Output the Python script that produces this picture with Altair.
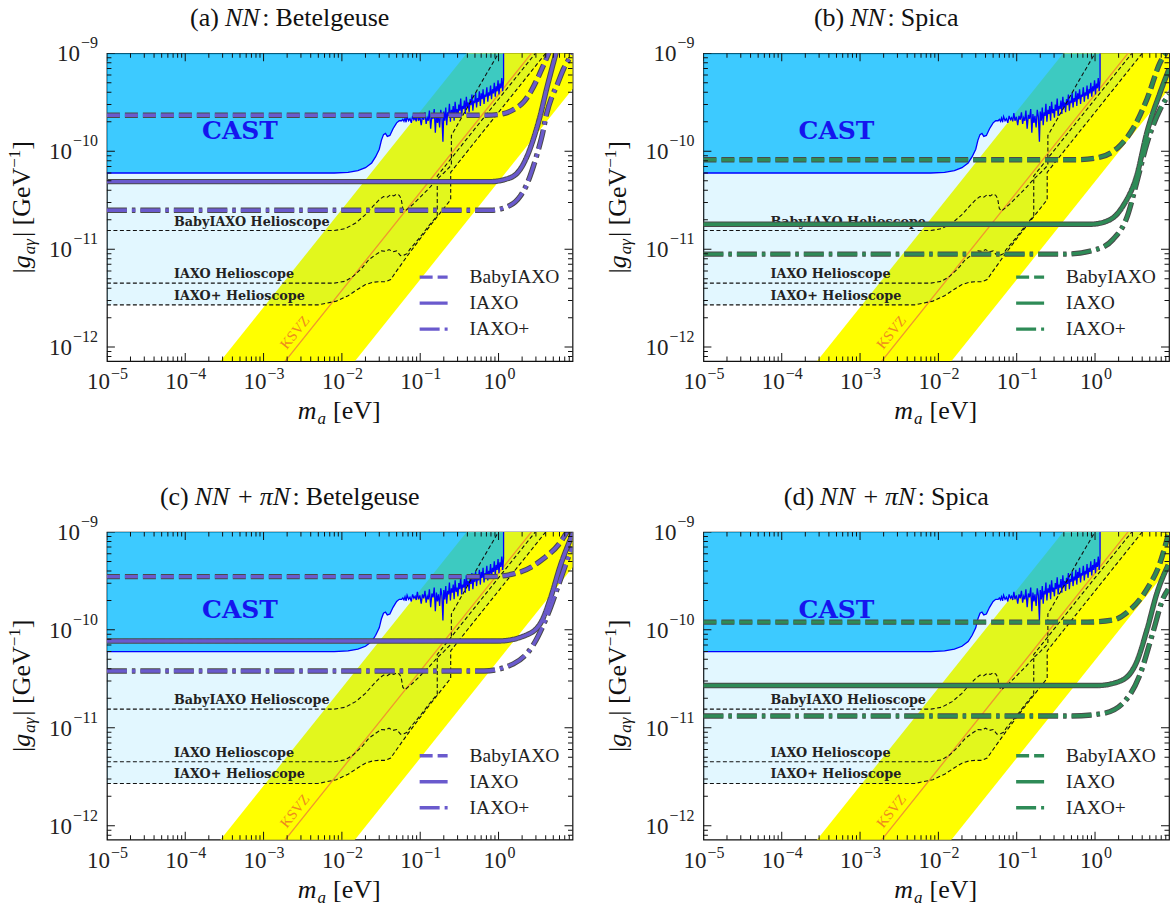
import altair as alt
import pandas as pd

SERIF = "Liberation Serif"
BOLD_SERIF = "DejaVu Serif"

W, H = 466, 308
X_DOMAIN = [1e-5, 8.8]
Y_DOMAIN = [7.2e-13, 1e-9]

X_TICKS = [1e-5, 1e-4, 1e-3, 1e-2, 1e-1, 1e0]
X_TICK_EXP = ["−5", "−4", "−3", "−2", "−1", "0"]
Y_TICKS = [1e-12, 1e-11, 1e-10, 1e-9]
Y_TICK_EXP = ["−12", "−11", "−10", "−9"]
X_MINOR = [k * 10.0 ** e for e in range(-5, 1) for k in range(2, 10) if k * 10.0 ** e <= 8.8]
Y_MINOR = [k * 10.0 ** e for e in range(-13, -9) for k in range(2, 10) if 7.2e-13 <= k * 10.0 ** e <= 1e-9]

# QCD axion band edges
BAND_M = [1e-5, 10.0]
BAND_LOW = [4.9e-16, 4.9e-10]
BAND_HIGH = [2.55e-14, 2.55e-8]

# KSVZ line
KSVZ_M = [1.0e-3, 3.0]
KSVZ_G = [3.8e-13, 1.14e-9]

# CAST limit
CAST_M = [1e-5, 0.008, 0.012, 0.016, 0.020, 0.024, 0.027, 0.030, 0.032, 0.034, 0.036, 0.038, 0.041,
          0.045, 0.050, 0.054,
          0.058, 0.060, 0.062, 0.064, 0.066, 0.068, 0.071, 0.074, 0.077, 0.080, 0.083, 0.086, 0.089,
          0.092, 0.095, 0.099, 0.103, 0.107, 0.111, 0.115, 0.119, 0.123, 0.127, 0.131, 0.136, 0.141,
          0.146, 0.151, 0.156, 0.161, 0.166, 0.171, 0.177, 0.183, 0.189, 0.195, 0.200,
          0.206, 0.212, 0.218, 0.224, 0.230, 0.236, 0.243, 0.250, 0.257, 0.264, 0.271, 0.279, 0.287,
          0.295, 0.303, 0.311, 0.320, 0.329, 0.338, 0.347, 0.357, 0.367, 0.377, 0.388, 0.399, 0.410,
          0.421, 0.433, 0.445, 0.457, 0.470, 0.483, 0.496, 0.510, 0.524, 0.539, 0.554, 0.569, 0.585,
          0.601, 0.618, 0.635, 0.653, 0.671, 0.690, 0.709, 0.729, 0.749, 0.770, 0.791, 0.813, 0.836,
          0.859, 0.883, 0.908, 0.933, 0.959, 0.986, 1.013, 1.041, 1.070, 1.100, 1.130, 1.160]
CAST_G = [6.0e-11, 6.0e-11, 6.1e-11, 6.35e-11, 6.8e-11, 7.6e-11, 8.8e-11, 1.05e-10, 1.3e-10, 1.48e-10,
          1.52e-10, 1.42e-10, 1.45e-10, 1.7e-10, 1.95e-10, 2.05e-10,
          2.05e-10, 2.12e-10, 2.02e-10, 2.18e-10, 1.98e-10, 2.26e-10, 2.05e-10, 2.15e-10, 1.95e-10, 2.3e-10,
          2.1e-10, 2.2e-10, 2.02e-10, 2.45e-10, 2.05e-10, 2.25e-10, 1.85e-10, 2.3e-10, 2.1e-10, 2.5e-10,
          1.9e-10, 2.2e-10, 2.05e-10, 2.6e-10, 1.7e-10, 2.35e-10, 2.15e-10, 2.7e-10, 1.55e-10, 2.4e-10,
          1.95e-10, 2.3e-10, 1.75e-10, 2.65e-10, 2.25e-10, 1.25e-10, 2.55e-10,
          2.05e-10, 2.8e-10, 1.85e-10, 2.5e-10, 2.3e-10, 3.05e-10, 2.0e-10, 2.65e-10, 2.4e-10, 2.9e-10,
          2.05e-10, 3.2e-10, 2.45e-10, 2.7e-10, 2.2e-10, 3.0e-10, 2.6e-10, 3.45e-10, 2.3e-10, 2.9e-10,
          2.7e-10, 3.3e-10, 2.4e-10, 3.6e-10, 2.8e-10, 3.15e-10, 2.5e-10, 3.4e-10, 2.95e-10, 3.8e-10,
          2.6e-10, 3.3e-10, 3.1e-10, 3.95e-10, 2.8e-10, 3.5e-10, 3.2e-10, 4.1e-10, 2.9e-10, 3.9e-10,
          3.4e-10, 4.3e-10, 3.05e-10, 3.8e-10, 3.6e-10, 4.5e-10, 3.2e-10, 4.0e-10, 3.7e-10, 4.7e-10,
          3.4e-10, 4.3e-10, 3.9e-10, 5.0e-10, 3.6e-10, 4.6e-10, 4.1e-10, 5.3e-10, 3.8e-10, 4.9e-10,
          4.4e-10, 5.6e-10, 4.1e-10, 5.4e-10]
CAST_EDGE_M = [1.160, 1.160]
CAST_EDGE_G = [5.4e-10, 1.0e-9]

# Helioscope sensitivities (black dashed)
HB_M = [1e-5, 0.008, 0.011, 0.015, 0.02, 0.025, 0.03, 0.034, 0.038, 0.042, 0.046, 0.05, 0.054, 0.057,
        0.060, 0.064, 0.08, 0.1, 0.13, 0.165, 0.2, 0.25, 0.25, 0.4, 0.6, 1.0]
HB_G = [1.55e-11, 1.55e-11, 1.62e-11, 1.85e-11, 2.25e-11, 2.75e-11, 3.2e-11, 3.45e-11, 3.4e-11, 3.6e-11,
        3.5e-11, 3.65e-11, 3.55e-11, 3.3e-11, 2.6e-11, 2.45e-11, 2.85e-11, 3.4e-11, 4.2e-11, 5.2e-11,
        6.0e-11, 7.2e-11, 1.45e-10, 2.8e-10, 5.0e-10, 1.0e-9]
HI_M = [1e-5, 0.008, 0.011, 0.014, 0.018, 0.022, 0.027, 0.032, 0.036, 0.040, 0.045, 0.050, 0.056, 0.062,
        0.068, 0.074, 0.1, 0.13, 0.165, 0.165, 0.5, 1.0, 2.95]
HI_G = [4.5e-12, 4.5e-12, 4.7e-12, 5.3e-12, 6.4e-12, 7.8e-12, 8.8e-12, 9.6e-12, 9.5e-12, 9.9e-12, 9.4e-12,
        9.6e-12, 8.6e-12, 8.7e-12, 9.0e-12, 1.0e-11, 1.33e-11, 1.75e-11, 2.2e-11, 5.6e-11, 1.7e-10,
        3.4e-10, 1.0e-9]
HP_M = [1e-5, 0.005, 0.0085, 0.012, 0.016, 0.02, 0.025, 0.03, 0.036, 0.042, 0.05, 0.074, 0.12, 0.165,
        0.245, 0.245, 0.5, 1.0, 2.0, 4.0]
HP_G = [2.7e-12, 2.7e-12, 2.95e-12, 3.35e-12, 3.9e-12, 4.35e-12, 4.6e-12, 4.65e-12, 4.65e-12, 4.9e-12,
        6.0e-12, 9.3e-12, 1.55e-11, 2.15e-11, 3.2e-11, 6.1e-11, 1.25e-10, 2.5e-10, 5.0e-10, 1.0e-9]
HELIO_LABELS = ["BabyIAXO Helioscope", "IAXO Helioscope", "IAXO+ Helioscope"]
HELIO_LABEL_M = [7.2e-5, 7.2e-5, 7.2e-5]
HELIO_LABEL_G = [1.55e-11, 4.5e-12, 2.7e-12]

CURVES = ["BabyIAXO", "IAXO", "IAXO+"]
DASHES = [[13, 5], [1, 0], [20, 5, 3.5, 5]]
PURPLE = "#6a5acd"
GREEN = "#2e8b57"

# (a) NN: Betelgeuse
A_BABY_M = [1e-5, 0.7, 1.1, 1.6, 2.1, 2.6, 3.1, 3.7, 4.4]
A_BABY_G = [2.33e-10, 2.33e-10, 2.4e-10, 2.7e-10, 3.2e-10, 4.1e-10, 5.4e-10, 7.4e-10, 1.02e-9]
A_IAXO_M = [1e-5, 0.8, 1.2, 1.7, 2.3, 2.8, 3.4, 4.1, 4.8, 5.5]
A_IAXO_G = [4.9e-11, 4.9e-11, 5.15e-11, 5.9e-11, 8.8e-11, 1.35e-10, 2.3e-10, 4.3e-10, 7.0e-10, 1.05e-9]
A_PLUS_M = [1e-5, 0.8, 1.4, 1.9, 2.3, 2.7, 3.1, 3.6, 4.1, 4.8, 5.5, 6.8, 8.3, 9.0]
A_PLUS_G = [2.5e-11, 2.5e-11, 2.8e-11, 3.5e-11, 4.6e-11, 6.5e-11, 9.3e-11, 1.45e-10, 2.4e-10, 3.6e-10,
            4.6e-10, 7.0e-10, 9.3e-10, 1.05e-9]
# (b) NN: Spica
B_BABY_M = [1e-5, 0.6, 1.16, 2.1, 3.05, 4.6, 6.8, 8.3]
B_BABY_G = [8.2e-11, 8.2e-11, 8.7e-11, 1.15e-10, 1.7e-10, 3.4e-10, 8.1e-10, 1.05e-9]
B_IAXO_M = [1e-5, 0.9, 1.55, 2.3, 3.4, 4.6, 6.8, 8.8]
B_IAXO_G = [1.8e-11, 1.8e-11, 2.0e-11, 2.8e-11, 5.6e-11, 1.56e-10, 4.0e-10, 6.9e-10]
B_PLUS_M = [1e-5, 0.4, 1.07, 1.7, 2.6, 3.4, 4.6, 6.8, 8.8]
B_PLUS_G = [8.9e-12, 8.9e-12, 1.0e-11, 1.26e-11, 2.2e-11, 4.8e-11, 1.2e-10, 2.7e-10, 3.8e-10]
# (c) NN + πN: Betelgeuse
C_BABY_M = [1e-5, 0.8, 1.9, 3.7, 6.2, 7.6]
C_BABY_G = [3.5e-10, 3.5e-10, 3.9e-10, 5.3e-10, 7.9e-10, 1.02e-9]
C_IAXO_M = [1e-5, 1.0, 2.3, 3.5, 4.6, 6.2, 8.3, 9.0]
C_IAXO_G = [7.7e-11, 7.7e-11, 8.9e-11, 1.2e-10, 2.1e-10, 4.6e-10, 8.5e-10, 1.0e-9]
C_PLUS_M = [1e-5, 0.65, 1.55, 2.8, 4.2, 6.2, 8.3, 8.8]
C_PLUS_G = [3.8e-11, 3.8e-11, 4.5e-11, 7.1e-11, 1.4e-10, 3.3e-10, 6.3e-10, 7.0e-10]
# (d) NN + πN: Spica
D_BABY_M = [1e-5, 0.8, 1.7, 2.8, 4.6, 6.8, 8.6]
D_BABY_G = [1.2e-10, 1.2e-10, 1.26e-10, 1.6e-10, 2.6e-10, 4.9e-10, 9.3e-10]
D_IAXO_M = [1e-5, 1.07, 2.1, 3.4, 4.6, 6.2, 8.6]
D_IAXO_G = [2.7e-11, 2.7e-11, 3.0e-11, 4.7e-11, 1.0e-10, 2.4e-10, 4.6e-10]
D_PLUS_M = [1e-5, 0.5, 1.26, 2.3, 3.7, 5.5, 7.4, 8.6]
D_PLUS_G = [1.32e-11, 1.32e-11, 1.4e-11, 1.8e-11, 3.4e-11, 9.5e-11, 2.1e-10, 2.6e-10]

# panel titles: (gap before, text, italic?) segments
TITLE_A = [(0, "(a)", False), (6, "NN", True), (1, ":", False), (6, "Betelgeuse", False)]
TITLE_B = [(0, "(b)", False), (6, "NN", True), (1, ":", False), (6, "Spica", False)]
TITLE_C = [(0, "(c)", False), (6, "NN", True), (7, "+", False), (7, "πN", True), (1, ":", False),
           (6, "Betelgeuse", False)]
TITLE_D = [(0, "(d)", False), (6, "NN", True), (7, "+", False), (7, "πN", True), (1, ":", False),
           (6, "Spica", False)]

PANELS = [
    (TITLE_A, PURPLE, (A_BABY_M, A_BABY_G), (A_IAXO_M, A_IAXO_G), (A_PLUS_M, A_PLUS_G)),
    (TITLE_B, GREEN, (B_BABY_M, B_BABY_G), (B_IAXO_M, B_IAXO_G), (B_PLUS_M, B_PLUS_G)),
    (TITLE_C, PURPLE, (C_BABY_M, C_BABY_G), (C_IAXO_M, C_IAXO_G), (C_PLUS_M, C_PLUS_G)),
    (TITLE_D, GREEN, (D_BABY_M, D_BABY_G), (D_IAXO_M, D_IAXO_G), (D_PLUS_M, D_PLUS_G)),
]

NBSP = "\u00a0"
# Times-like glyph advance widths (em) used to lay out mixed-style text pieces
REG_W = {"(": .333, ")": .333, "a": .444, "b": .5, "c": .444, "d": .5, " ": .25, NBSP: .25, ":": .278,
         "B": .667, "e": .444, "t": .278, "l": .278, "g": .5, "u": .5, "s": .389, "S": .556,
         "p": .5, "i": .278, "+": .564, "|": .2, "[": .333, "]": .333, "G": .722, "V": .722,
         "−": .564, "1": .5}
ITA_W = {"N": .7, "π": .52, "g": .5, "a": .5, "γ": .45, "m": .722}


def text_w(s, italic, size):
    table = ITA_W if italic else REG_W
    return sum(table.get(ch, 0.5) for ch in s) * size


# ---------------------------------------------------------------- scales
XS = alt.Scale(type="log", domain=X_DOMAIN, nice=False)
YS = alt.Scale(type="log", domain=Y_DOMAIN, nice=False)


def X(f):
    return alt.X(f, type="quantitative", scale=XS, axis=None)


def Y(f):
    return alt.Y(f, type="quantitative", scale=YS, axis=None)


def frame_df(ms, gs):
    return pd.DataFrame({"m": ms, "g": gs, "i": list(range(len(ms)))})


ONE = pd.DataFrame({"k": [0]})
band_df = pd.DataFrame({"m": BAND_M, "lo": BAND_LOW, "hi": BAND_HIGH})
region_df = pd.DataFrame({"m": HP_M, "g": HP_G, "top": [1e-9] * len(HP_M)})
cast_fill_df = pd.DataFrame({"m": CAST_M, "g": CAST_G, "top": [1e-9] * len(CAST_M)})
cast_line_df = frame_df(CAST_M + CAST_EDGE_M, CAST_G + CAST_EDGE_G)
ksvz_df = frame_df(KSVZ_M, KSVZ_G)
helio_df = pd.concat([
    frame_df(HB_M, HB_G).assign(c="B"),
    frame_df(HI_M, HI_G).assign(c="I"),
    frame_df(HP_M, HP_G).assign(c="P"),
])
helio_lab_df = pd.DataFrame({"m": HELIO_LABEL_M, "g": HELIO_LABEL_G, "t": HELIO_LABELS})
cast_lab_df = pd.DataFrame({"m": [5.0e-4], "g": [1.6e-10], "t": ["CAST"]})
ksvz_lab_df = pd.DataFrame({"m": [2.55e-3], "g": [1.4e-12], "t": ["KSVZ"]})
xlab_df = pd.DataFrame({"v": X_TICKS[:-1], "e": X_TICK_EXP[:-1]})
xlab0_df = pd.DataFrame({"v": X_TICKS[-1:], "e": X_TICK_EXP[-1:]})
ylab2_df = pd.DataFrame({"v": Y_TICKS[:-1], "e": Y_TICK_EXP[:-1]})
ylab1_df = pd.DataFrame({"v": Y_TICKS[-1:], "e": Y_TICK_EXP[-1:]})

DASH = alt.Scale(domain=CURVES, range=DASHES)


def const_text(txt, x, y, size, italic=False, align="left", angle=0, baseline="alphabetic"):
    kw = dict(font=SERIF, fontSize=size, fontStyle="italic" if italic else "normal", color="#111",
              align=align, baseline=baseline)
    if angle:
        kw["angle"] = angle
    return alt.Chart(ONE).mark_text(**kw).encode(x=alt.value(x), y=alt.value(y), text=alt.value(txt))


def ticks_and_labels():
    out = []
    for vals, size in [(X_TICKS, 16), (X_MINOR, 9)]:
        df = pd.DataFrame({"v": vals})
        for ypos in [0, H]:
            out.append(alt.Chart(df).mark_tick(orient="vertical", size=size, thickness=1,
                                               color="#111", clip=True, opacity=1)
                       .encode(x=X("v"), y=alt.value(ypos)))
    for vals, size in [(Y_TICKS, 16), (Y_MINOR, 9)]:
        df = pd.DataFrame({"v": vals})
        for xpos in [0, W]:
            out.append(alt.Chart(df).mark_tick(orient="horizontal", size=size, thickness=1,
                                               color="#111", clip=True, opacity=1)
                       .encode(y=Y("v"), x=alt.value(xpos)))
    # x tick labels 10^e
    for df, dxb in [(xlab_df, 3), (xlab0_df, 8)]:
        out.append(alt.Chart(df).mark_text(font=SERIF, fontSize=23, color="#222", align="right",
                                           baseline="alphabetic", dx=dxb)
                   .encode(x=X("v"), y=alt.value(H + 28), text=alt.value("10")))
        out.append(alt.Chart(df).mark_text(font=SERIF, fontSize=16, color="#222", align="left",
                                           baseline="alphabetic", dx=dxb + 1)
                   .encode(x=X("v"), y=alt.value(H + 18), text="e:N"))
    # y tick labels 10^e
    for df, ew in [(ylab2_df, 25), (ylab1_df, 17)]:
        out.append(alt.Chart(df).mark_text(font=SERIF, fontSize=16, color="#222", align="right",
                                           baseline="alphabetic", dy=-5)
                   .encode(y=Y("v"), x=alt.value(-9), text="e:N"))
        out.append(alt.Chart(df).mark_text(font=SERIF, fontSize=23, color="#222", align="right",
                                           baseline="alphabetic", dy=8)
                   .encode(y=Y("v"), x=alt.value(-10 - ew), text=alt.value("10")))
    # x axis title: m_a [eV]
    x0 = W / 2 - 42
    out.append(const_text("m", x0, H + 58, 26, italic=True))
    x1 = x0 + text_w("m", True, 26) + 1
    out.append(const_text("a", x1, H + 63, 17, italic=True))
    x2 = x1 + text_w("a", True, 17) + 7
    out.append(const_text("[eV]", x2, H + 58, 26))
    # y axis title: |g_aγ| [GeV^-1] rotated
    parts = [("|", False, 26, 0), ("g", True, 26, 0), ("aγ", True, 17, 5), ("|" + NBSP + "[GeV", False, 26, 0),
             ("−1", False, 17, -10), ("]", False, 26, 0)]
    total = sum(text_w(p[0], p[1], p[2]) for p in parts) + 2
    ypos = H / 2 + total / 2
    for txt, ita, size, shift in parts:
        out.append(const_text(txt, -77 + shift, ypos, size, italic=ita, angle=270))
        ypos -= text_w(txt, ita, size) + (1 if ita else 0)
    return out


def title_layers(segments):
    size = 26
    total = sum(gap + text_w(s, it, size) for gap, s, it in segments)
    x = W / 2 - 50 - total / 2
    out = []
    for gap, s, it in segments:
        x += gap
        out.append(const_text(s, x, -27, size, italic=it))
        x += text_w(s, it, size)
    return out


def panel(title_segments, color, baby, iaxo, plus):
    rows = []
    for name, (ms, gs) in zip(CURVES, [baby, iaxo, plus]):
        for i, (m, g) in enumerate(zip(ms, gs)):
            rows.append({"m": m, "g": g, "curve": name, "i": i})
    cdf = pd.DataFrame(rows)

    band = alt.Chart(band_df).mark_area(clip=True, color="#ffff00", opacity=1).encode(
        x=X("m"), y=Y("lo"), y2="hi")
    region = alt.Chart(region_df).mark_area(clip=True, color="rgb(0,185,255)", opacity=0.115).encode(
        x=X("m"), y=Y("g"), y2="top")
    cast_fill = alt.Chart(cast_fill_df).mark_area(clip=True, color="rgb(0,185,255)", opacity=0.73).encode(
        x=X("m"), y=Y("g"), y2="top")
    ksvz = alt.Chart(ksvz_df).mark_line(clip=True, color="#f0962e", strokeWidth=1.3).encode(
        x=X("m"), y=Y("g"), order="i:Q")
    cast_line = alt.Chart(cast_line_df).mark_line(clip=True, color="#0000ff", strokeWidth=1.3).encode(
        x=X("m"), y=Y("g"), order="i:Q")
    helio = alt.Chart(helio_df).mark_line(clip=True, color="#111", strokeWidth=1.1,
                                          strokeDash=[4, 2.5]).encode(
        x=X("m"), y=Y("g"), detail="c:N", order="i:Q")
    helio_txt = alt.Chart(helio_lab_df).mark_text(font=BOLD_SERIF, fontWeight="bold", fontSize=12.8,
                                                  color="#222", align="left", baseline="alphabetic",
                                                  dy=-5).encode(
        x=X("m"), y=Y("g"), text="t:N")
    cast_txt = alt.Chart(cast_lab_df).mark_text(font=BOLD_SERIF, fontWeight="bold", fontSize=25,
                                                color="#1515ee", align="center",
                                                baseline="middle").encode(
        x=X("m"), y=Y("g"), text="t:N")
    ksvz_txt = alt.Chart(ksvz_lab_df).mark_text(font=SERIF, fontSize=14.5, color="#ee8a1e",
                                                align="center", baseline="middle",
                                                angle=308.7).encode(
        x=X("m"), y=Y("g"), text="t:N")
    outlines = []
    for name, dash in zip(CURVES, DASHES):
        outlines.append(alt.Chart(cdf).transform_filter(alt.datum.curve == name).mark_line(
            clip=True, interpolate="monotone", strokeWidth=5.4, color="#4a4a4a",
            strokeDash=dash).encode(x=X("m"), y=Y("g"), order="i:Q"))
    main = alt.Chart(cdf).mark_line(clip=True, interpolate="monotone", strokeWidth=3.4,
                                    color=color).encode(
        x=X("m"), y=Y("g"),
        strokeDash=alt.StrokeDash("curve:N", scale=DASH, legend=alt.Legend(
            title=None, orient="none", legendX=311, legendY=208, symbolType="stroke",
            symbolSize=784, symbolStrokeWidth=3.4, symbolStrokeColor=color,
            labelFont=SERIF, labelFontSize=19.5, labelColor="#222", labelOffset=20,
            rowPadding=0, padding=0, labelLimit=200)),
        order="i:Q")
    layers = ([band, region, cast_fill, ksvz, cast_line, helio, helio_txt, cast_txt, ksvz_txt]
              + outlines + [main] + ticks_and_labels() + title_layers(title_segments))
    return alt.layer(*layers).properties(width=W, height=H)


charts = [panel(*p) for p in PANELS]
chart = alt.concat(*charts, columns=2, spacing={"row": 171, "column": 131}, bounds="flush").resolve_scale(
    strokeDash="independent").resolve_legend(strokeDash="independent").configure_view(
    stroke="#111", strokeWidth=1.2).properties(
    padding={"left": 5, "top": 4, "right": 6, "bottom": 4})

chart.save("out.html", embed_options={"renderer": "svg", "actions": False})
